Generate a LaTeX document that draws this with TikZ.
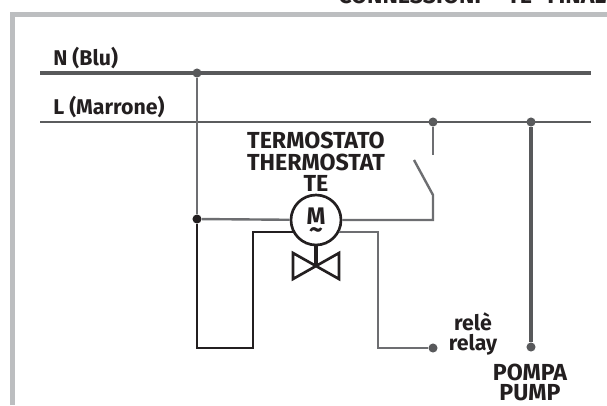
\documentclass[tikz,border=0pt]{standalone}
\usepackage{fontspec}
\setmainfont{Fira Sans}
\definecolor{wireg}{HTML}{6D6E71}
\definecolor{wired}{HTML}{58595B}
\definecolor{ink}{HTML}{231F20}
\definecolor{frameg}{HTML}{BCBEC0}
\tikzset{
  x=0.75pt,y=-0.75pt,
  wire/.style={draw=wireg,line width=1.8pt},
  wirebk/.style={draw=ink,line width=2pt},
  dotnode/.style={circle,fill=wired,inner sep=0pt,minimum size=6.8pt},
  dotblk/.style={circle,fill=ink,inner sep=0pt,minimum size=6.8pt},
  lab/.style={font=\bfseries\fontsize{16pt}{15pt}\selectfont,text=ink,align=center,inner sep=0pt},
  capslab/.style={lab,font=\bfseries\fontsize{17.4pt}{16pt}\selectfont},
}
\begin{document}
\begin{tikzpicture}
\useasboundingbox (0,0) rectangle (607,405);
\begin{scope}
\clip (0,0) rectangle (607,405);
\node[capslab,anchor=base west] (title1) at (338,3) {CONNESSIONI};
\node[capslab,anchor=base west] (title2) at (507,3) {TE};
\node[capslab,anchor=base west] (title3) at (547,3) {FINALI};
\end{scope}
\draw[frameg,line width=3.8pt] (12.7,405) -- (12.7,14.5) -- (607,14.5);
\coordinate (nl) at (40,73); \coordinate (nr) at (591,73);
\coordinate (ll) at (40,122); \coordinate (lr) at (591,122);
\node[dotnode] (d1) at (197,73) {};
\node[dotnode] (d2) at (433,122) {};
\node[dotnode] (d3) at (531,122) {};
\node[dotblk] (d4) at (197,219) {};
\node[dotnode] (d5) at (433,348) {};
\node[dotnode] (d6) at (531,347) {};
\node[circle,draw=ink,line width=2pt,fill=white,minimum size=37.5pt,inner sep=0pt] (m) at (316,220) {};
\draw[draw=wired,line width=2.4pt] (nl) -- (nr);
\draw[draw=wired!85!wireg,line width=2.1pt] (ll) -- (lr);
\draw[wire] (d1) -- (d4);
\draw[wire] (d4) -- (m);
\coordinate (sw) at (433,195);
\coordinate (blade) at (414,160);
\coordinate (swt) at (433,155);
\draw[wire] (m) -- (433,220) -- (sw) -- (blade);
\draw[wire] (d2) -- (swt);
\draw[draw=wired,line width=2.4pt] (d3) -- (d6);
\draw[wirebk] (d4) -- (197,348) -- (253,348) -- (253,232) -- (293,232);
\draw[wire] (339,232) -- (378,232) -- (378,348) -- (d5);
\node[capslab,font=\bfseries\fontsize{18pt}{18pt}\selectfont] at (316,216.5) {M};
\node[capslab,font=\bfseries\fontsize{20pt}{20pt}\selectfont] at (316,233) {\char"007E};
\coordinate (vc) at (316,266);
\draw[draw=ink,line width=3.2pt] (316,245) -- (vc);
\draw[draw=ink,line width=2pt,line join=miter] (vc) -- (293,253) -- (293,279) -- (339,253) -- (339,279) -- (293,253);
\node[lab,anchor=west] (n) at (53,58) {N (Blu)};
\node[lab,anchor=west] (l) at (53,107) {L (Marrone)};
\node[capslab] (t) at (316,162) {TERMOSTATO\\THERMOSTAT\\TE};
\node[lab] (r) at (473,334) {relè\\relay};
\node[capslab,font=\bfseries\fontsize{17.4pt}{15pt}\selectfont] (p) at (530,382) {POMPA\\PUMP};
\end{tikzpicture}
\end{document}
